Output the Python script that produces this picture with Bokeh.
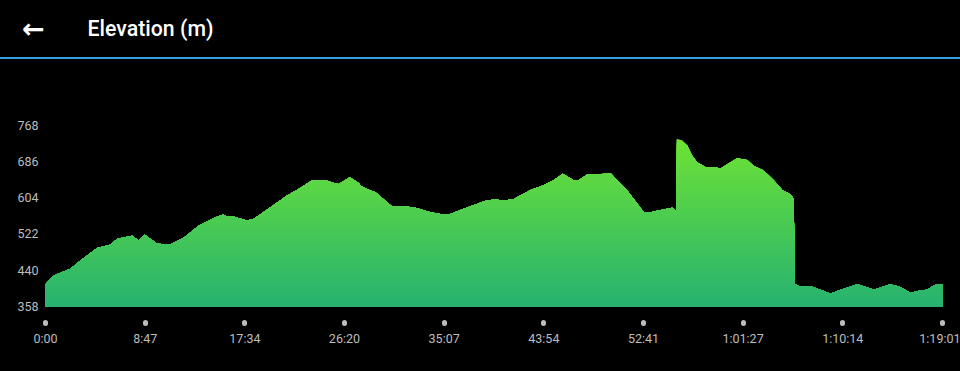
import numpy as np
from bokeh.plotting import figure
from bokeh.layouts import column
from bokeh.models import FixedTicker, Div
from bokeh.core.properties import value
from bokeh.embed import file_html
from bokeh.resources import INLINE

# ---------------- data ----------------
title_text = "Elevation (m)"
back_icon = "←"

time_s = [0, 44, 132, 185, 273, 344, 379, 458, 493, 525, 590, 661, 740, 810, 890,
          939, 964, 987, 1066, 1101, 1189, 1277, 1339, 1410, 1480, 1524, 1550, 1608,
          1656, 1665, 1718, 1744, 1832, 1885, 1956, 2035, 2088, 2132, 2193, 2282,
          2326, 2378, 2422, 2475, 2563, 2625, 2687, 2734, 2792, 2819, 2863, 2969,
          2990, 3022, 3075, 3162, 3198, 3251, 3312, 3326, 3334, 3336, 3365, 3392,
          3418, 3444, 3488, 3532, 3568, 3620, 3656, 3709, 3743, 3796, 3849, 3894,
          3938, 3955, 3960, 3990, 4043, 4096, 4149, 4202, 4290, 4318, 4378, 4466,
          4510, 4572, 4625, 4657, 4709, 4741]
elev_m = [408, 428, 443, 462, 490, 498, 511, 518, 507, 520, 500, 498, 516, 541, 558,
          566, 560, 562, 552, 556, 582, 609, 624, 643, 643, 637, 635, 650,
          637, 631, 620, 616, 584, 585, 581, 571, 567, 566, 576, 590,
          597, 600, 597, 601, 621, 631, 644, 658, 643, 644, 656, 658,
          658, 643, 620, 571, 571, 576, 581, 576, 576, 737, 733, 722,
          699, 684, 673, 673, 670, 684, 693, 689, 676, 665, 643, 621,
          611, 601, 409, 402, 404, 396, 387, 396, 408, 405, 396, 408,
          403, 389, 394, 396, 408, 407]

y_ticks = [358, 440, 522, 604, 686, 768]
x_tick_labels = ["0:00", "8:47", "17:34", "26:20", "35:07", "43:54", "52:41",
                 "1:01:27", "1:10:14", "1:19:01"]


def to_seconds(label):
    total = 0
    for part in label.split(":"):
        total = total * 60 + int(part)
    return total


x_ticks = [to_seconds(s) for s in x_tick_labels]
base_elev = y_ticks[0]

# ---------------- layout constants (pixels) ----------------
W = 960
LEFT, RIGHT = 45, 18
HEADER_H = 57          # rows 0..56
RULE_H = 2             # blue rule, rows 57..58
MAIN_H = 371 - HEADER_H - RULE_H
FRAME_TOP_ABS, FRAME_BOTTOM_ABS = 110, 322
BASE_ABS = 306         # pixel row of elevation 358
TOP_TICK_ABS = 124.5   # pixel row of elevation 768

# ---------------- header ----------------
header = figure(width=W, height=HEADER_H, x_range=(LEFT, W - RIGHT),
                y_range=(HEADER_H, 0), x_axis_type=None,
                output_backend="svg", toolbar_location=None,
                min_border_left=LEFT, min_border_right=RIGHT,
                min_border_top=0, min_border_bottom=0,
                background_fill_color="black", border_fill_color="black",
                outline_line_color=None)
header.grid.visible = False
hy = header.yaxis[0]
hy.ticker = FixedTicker(ticks=[28])
hy.major_label_overrides = {28: back_icon}
hy.axis_line_color = None
hy.major_tick_line_color = None
hy.minor_tick_line_color = None
hy.major_tick_in = 0
hy.major_tick_out = 0
hy.major_label_standoff = 1
hy.major_label_text_color = "white"
hy.major_label_text_font = "DejaVu Sans"
hy.major_label_text_font_style = "bold"
hy.major_label_text_font_size = "27px"
header.text(x=[87], y=[27.5], text=[title_text], text_align="left",
            text_baseline="alphabetic", text_color="white",
            text_font=value("Roboto Medium"), text_font_size="21.3px")

rule = Div(text="", width=W, height=RULE_H, margin=0,
           styles={"background-color": "#30a3dc"})

# ---------------- main chart ----------------
main_top = HEADER_H + RULE_H
px_per_m = (BASE_ABS - TOP_TICK_ABS) / (y_ticks[-1] - base_elev)
y_lo = base_elev - (FRAME_BOTTOM_ABS - BASE_ABS) / px_per_m
y_hi = base_elev + (BASE_ABS - FRAME_TOP_ABS) / px_per_m

p = figure(width=W, height=MAIN_H, x_range=(0, x_ticks[-1]), y_range=(y_lo, y_hi),
           output_backend="svg", toolbar_location=None,
           min_border_left=LEFT, min_border_right=RIGHT,
           min_border_top=FRAME_TOP_ABS - main_top,
           min_border_bottom=371 - FRAME_BOTTOM_ABS,
           background_fill_color="black", border_fill_color="black",
           outline_line_color=None)
p.grid.visible = False

t = np.array(time_s, dtype=float)
e = np.array(elev_m, dtype=float)

# vertical gradient (screen-space) built from stacked layers
top_c = np.array([0x6e, 0xe3, 0x34], dtype=float)
bot_c = np.array([0x26, 0xb2, 0x71], dtype=float)
top_ref = 740.0
n = 70
levels = np.linspace(base_elev, max(elev_m) + 2, n + 1)[1:]
step = levels[1] - levels[0]
for hi in levels[::-1]:
    mid = hi - step / 2
    f = np.clip((mid - base_elev) / (top_ref - base_elev), 0, 1)
    c = bot_c + (top_c - bot_c) * f
    col = "#%02x%02x%02x" % tuple(int(round(v)) for v in c)
    p.varea(x=t, y1=np.full_like(e, base_elev), y2=np.minimum(e, hi),
            fill_color=col)

label_color = "#bdbdbd"

yax = p.yaxis[0]
yax.ticker = FixedTicker(ticks=y_ticks)
yax.axis_line_color = None
yax.major_tick_line_color = None
yax.minor_tick_line_color = None
yax.major_tick_out = 0
yax.major_tick_in = 0
yax.major_label_standoff = 7
yax.major_label_text_color = label_color
yax.major_label_text_font = "Roboto"
yax.major_label_text_font_size = "12.5px"

xax = p.xaxis[0]
xax.ticker = FixedTicker(ticks=x_ticks)
xax.major_label_overrides = {v: s for v, s in zip(x_ticks, x_tick_labels)}
xax.axis_line_color = None
xax.minor_tick_line_color = None
xax.major_tick_line_color = label_color
xax.major_tick_line_width = 5
xax.major_tick_line_cap = "round"
xax.major_tick_in = 0
xax.major_tick_out = 1
xax.major_label_standoff = 7
xax.major_label_text_color = label_color
xax.major_label_text_font = "Roboto"
xax.major_label_text_font_size = "12.5px"

layout = column(header, rule, p, spacing=0)
html = file_html(layout, INLINE)
html = html.replace("<head>", "<head><style>html,body{margin:0;padding:0;"
                    "background:#000;}</style>", 1)
open("out.html", "w").write(html)
